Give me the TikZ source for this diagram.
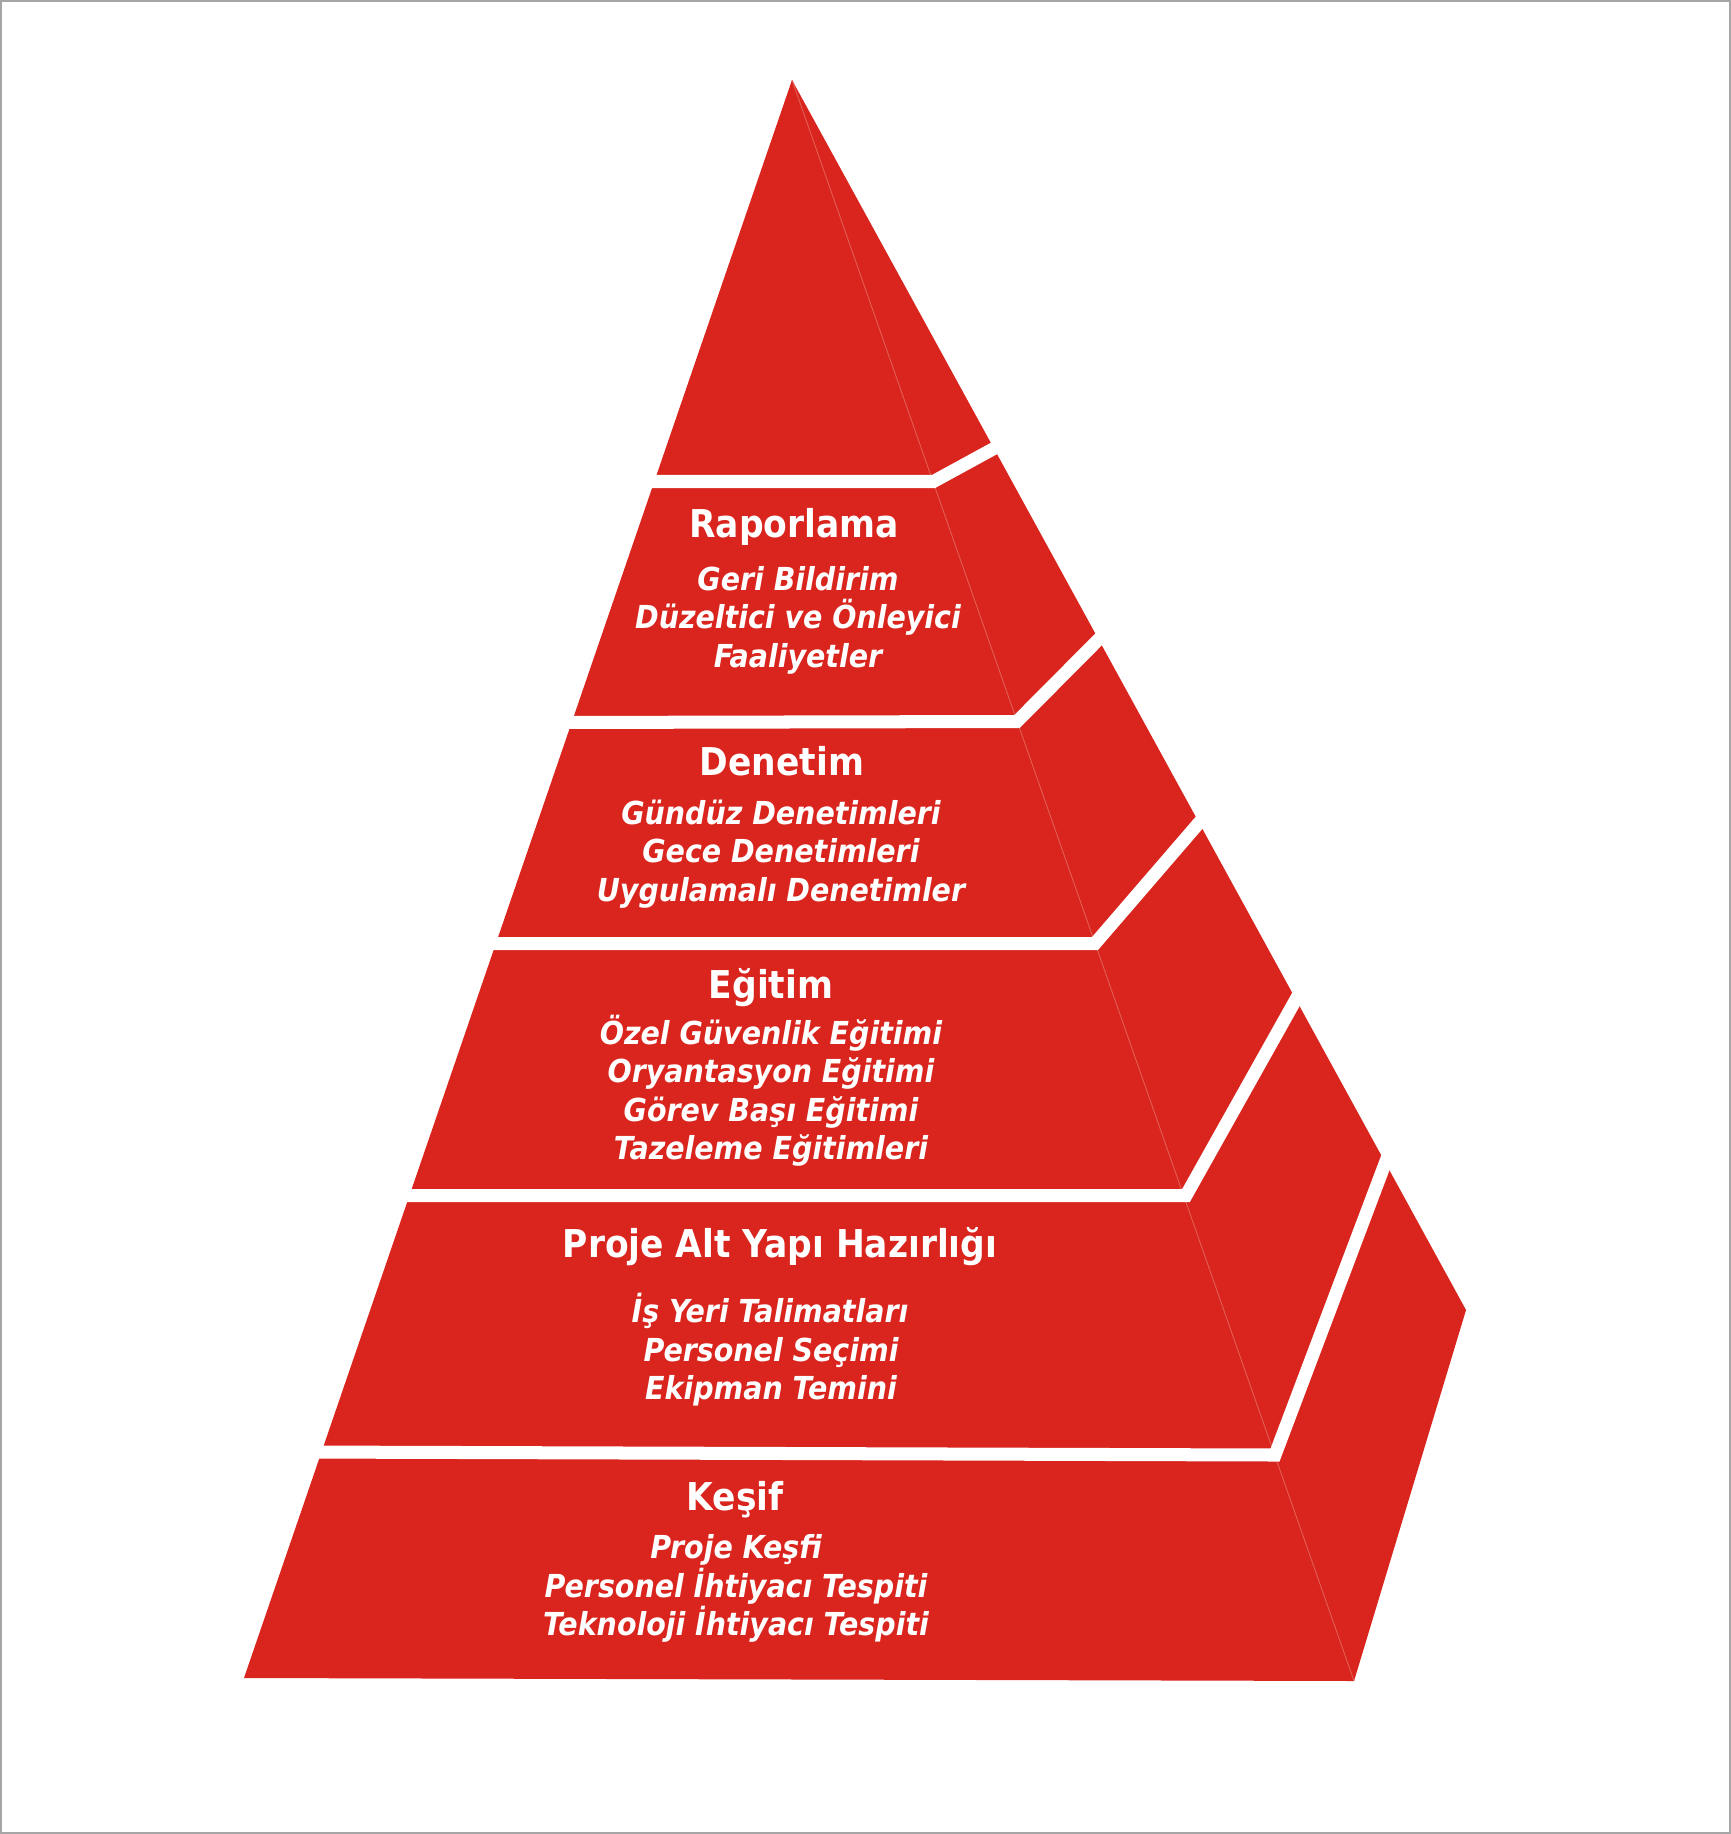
\documentclass[tikz,border=0pt]{standalone}
\usepackage{fontspec}
\setmainfont{DejaVu Sans Condensed}
\usepackage{tikz}
\usetikzlibrary{calc}
\usepackage{xcolor}
\definecolor{pyred}{RGB}{217,37,29}
\definecolor{pyedge}{RGB}{226,95,85}
\newcommand{\pycut}[3]{\draw[white,line width=3.7pt] ($(#1)+(-14,0)$) -- (#2) -- ($(#2)!1.25!(#3)$);}
\newcommand{\pyhead}[4]{\node[pyhead] (#1) at (#2,#3) {#4};}
\newcommand{\pyitem}[4]{\node[pyitem] (#1) at (#2,#3) {#4};}
\tikzset{
  pyhead/.style={text=white,inner sep=0pt,text height=0.73em,text depth=0pt,
    font=\bfseries\fontsize{10.9}{13}\selectfont},
  pyitem/.style={text=white,inner sep=0pt,text height=0.73em,text depth=0pt,
    font=\bfseries\itshape\fontsize{9}{11}\selectfont}
}

\begin{document}
\begin{tikzpicture}[x=0.01cm,y=-0.01cm]

    \useasboundingbox (0,0) rectangle (1731,1834);
    \draw[gray!70,line width=0.6pt] (1,1) rectangle (1730,1833);

    \coordinate (apex) at (792,80);
    \coordinate (bl) at (244,1678);
    \coordinate (br) at (1354,1681);
    \coordinate (bk) at (1466,1310);

    \fill[pyred] (apex) -- (bl) -- (br) -- (bk) -- cycle;
    \draw[pyedge,line width=0.25pt] (apex) -- (br);

    \coordinate (c1l) at (650,481.5);
    \coordinate (c1r) at (933.5,481.5);
    \coordinate (c1b) at (993,449);

    \coordinate (c2l) at (568,722.5);
    \coordinate (c2r) at (1017,721.5);
    \coordinate (c2b) at (1097.5,640.5);

    \coordinate (c3l) at (490,943.5);
    \coordinate (c3r) at (1095,943.5);
    \coordinate (c3b) at (1198,824);

    \coordinate (c4l) at (405,1195.5);
    \coordinate (c4r) at (1186,1195.5);
    \coordinate (c4b) at (1295,1001);

    \coordinate (c5l) at (316,1452);
    \coordinate (c5r) at (1275,1455);
    \coordinate (c5b) at (1384.5,1165);

    \pycut{c1l}{c1r}{c1b}
    \pycut{c2l}{c2r}{c2b}
    \pycut{c3l}{c3r}{c3b}
    \pycut{c4l}{c4r}{c4b}
    \pycut{c5l}{c5r}{c5b}

    \pyhead{rap}{794}{525}{Raporlama}
    \pyitem{rap1}{798}{578}{Geri Bildirim}
    \pyitem{rap2}{798}{616}{Düzeltici ve Önleyici}
    \pyitem{rap3}{798}{655}{Faaliyetler}

    \pyhead{den}{782}{763}{Denetim}
    \pyitem{den1}{781}{812}{Gündüz Denetimleri}
    \pyitem{den2}{781}{850}{Gece Denetimleri}
    \pyitem{den3}{781}{889}{Uygulamalı Denetimler}

    \pyhead{egi}{771}{986}{Eğitim}
    \pyitem{egi1}{771}{1032}{Özel Güvenlik Eğitimi}
    \pyitem{egi2}{771}{1070}{Oryantasyon Eğitimi}
    \pyitem{egi3}{771}{1109}{Görev Başı Eğitimi}
    \pyitem{egi4}{771}{1147}{Tazeleme Eğitimleri}

    \pyhead{pro}{780}{1245}{Proje Alt Yapı Hazırlığı}
    \pyitem{pro1}{770}{1310}{İş Yeri Talimatları}
    \pyitem{pro2}{771}{1349}{Personel Seçimi}
    \pyitem{pro3}{771}{1387}{Ekipman Temini}

    \pyhead{kes}{735}{1498}{Keşif}
    \pyitem{kes1}{736}{1546}{Proje Keşfi}
    \pyitem{kes2}{736}{1585}{Personel İhtiyacı Tespiti}
    \pyitem{kes3}{736}{1623}{Teknoloji İhtiyacı Tespiti}

\end{tikzpicture}
\end{document}
